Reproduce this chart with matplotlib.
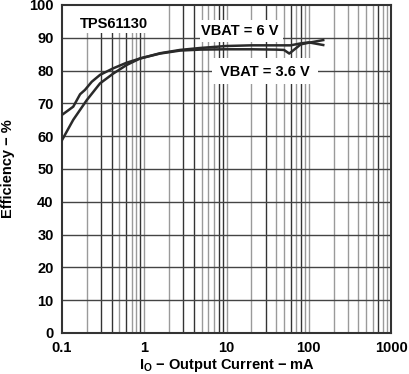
import numpy as np
import matplotlib
matplotlib.use("Agg")
import matplotlib.pyplot as plt
from matplotlib.patches import Rectangle

plt.rcParams['font.family'] = ['Liberation Sans', 'DejaVu Sans']
plt.rcParams['font.weight'] = 'bold'

# VBAT = 6 V curve
i_6v = [0.1, 0.137, 0.166, 0.19, 0.23, 0.29, 0.42, 0.61, 0.89, 1.56, 2.72, 4.8,
        10, 20, 40, 60, 80, 100, 150]
eff_6v = [66.5, 69, 72.8, 74.1, 76.6, 78.7, 80.7, 82.4, 83.7, 85.3, 86.3, 86.9,
          87.5, 87.7, 87.7, 87.7, 88.3, 88.6, 87.8]

# VBAT = 3.6 V curve
i_36v = [0.1, 0.137, 0.2, 0.29, 0.42, 0.61, 0.89, 1.56, 2.72, 4.8,
         10, 20, 40, 50, 58, 80, 100, 150]
eff_36v = [58.8, 65, 71, 76.1, 79.1, 81.7, 83.7, 85.2, 86.1, 86.4,
           86.5, 86.5, 86.4, 86.3, 85.2, 88.0, 88.5, 89.3]

x_ticks = [0.1, 1, 10, 100, 1000]
x_labels = ['0.1', '1', '10', '100', '1000']
y_ticks = list(range(0, 101, 10))

fig = plt.figure(figsize=(4.09, 3.74), dpi=100)
ax = fig.add_axes([62 / 409, 41 / 374, 329 / 409, 328 / 374])
ax.set_xscale('log')
ax.set_xlim(0.1, 1000)
ax.set_ylim(0, 100)

# vertical grid, shades vary like the scanned original
dark = {0.3, 0.4, 0.6, 0.9, 3, 4, 8, 9, 30, 60, 80, 700}
for dec in [0.1, 1, 10, 100]:
    for m in range(2, 11):
        v = round(dec * m, 6)
        if v >= 1000:
            continue
        c = '#333333' if v in dark else '#9a9a9a'
        ax.axvline(v, color=c, lw=1.0, zorder=1)
for y in y_ticks[1:-1]:
    ax.axhline(y, color='#444444', lw=1.0, zorder=1)

ax.plot(i_6v, eff_6v, color='#2a2a2a', lw=1.8, zorder=3)
ax.plot(i_36v, eff_36v, color='#2a2a2a', lw=1.8, zorder=3)

ax.set_xticks(x_ticks)
ax.set_xticklabels(x_labels)
ax.xaxis.set_minor_locator(matplotlib.ticker.NullLocator())
ax.set_yticks(y_ticks)
ax.tick_params(length=0, labelsize=10.5, pad=6)
for s in ax.spines.values():
    s.set_color('#333333')
    s.set_linewidth(1.5)

# white label boxes that hide the grid
ax.add_patch(Rectangle((0.1, 91.5), 1.94 - 0.1, 8.5, facecolor='white',
                       edgecolor='none', zorder=2))
ax.add_patch(Rectangle((4.77, 88.8), 48.8 - 4.77, 6.6, facecolor='white',
                       edgecolor='none', zorder=2))
ax.add_patch(Rectangle((6.67, 76.0), 128 - 6.67, 7.8, facecolor='white',
                       edgecolor='none', zorder=2))

ax.text(0.166, 94.2, 'TPS61130', fontsize=10.5, fontweight='bold', ha='left',
        va='center', zorder=4)
ax.text(14.6, 92.0, 'VBAT = 6 V', fontsize=10.5, fontweight='bold', ha='center',
        va='center', zorder=4)
ax.text(29.5, 79.7, 'VBAT = 3.6 V', fontsize=10.5, fontweight='bold', ha='center',
        va='center', zorder=4)

ax.set_xlabel('I$_\\mathregular{O}$ \u2212 Output Current \u2212 mA', fontsize=10.5,
              fontweight='bold', labelpad=1)
ax.set_ylabel('Efficiency \u2212 %', fontsize=10.5, fontweight='bold', labelpad=10)

fig.savefig('out.png', dpi=100)
